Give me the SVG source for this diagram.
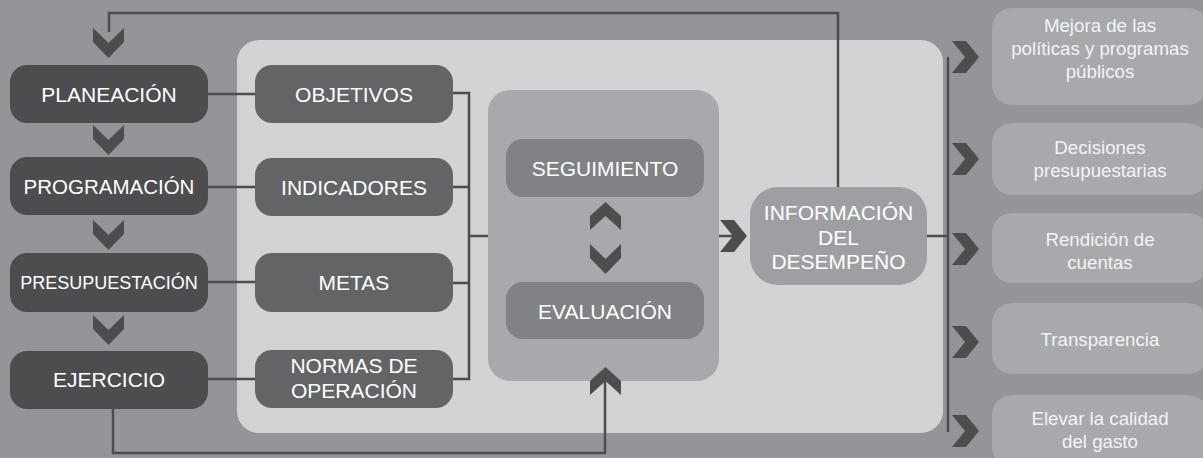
<svg xmlns="http://www.w3.org/2000/svg" xmlns:xlink="http://www.w3.org/1999/xlink" width="1203" height="458" viewBox="0 0 1203 458">
<style>
text{font-family:"Liberation Sans",Arial,Helvetica,sans-serif;text-anchor:middle;fill:#ffffff}
.t21{font-size:21px}
.t18{font-size:18.7px;fill:#f4f4f4}
.ln{fill:none;stroke:#4d4d4f;stroke-width:2.5}
.chev{fill:#4d4d4f}
.dark{fill:#4d4d4f}
.mid{fill:#636466}
.eval{fill:#808285}
.out{fill:#a7a9ac}
</style>
<defs>
<path id="cd" d="M0,0 L15.5,15 L31,0 L31,14 L15.5,30 L0,14 Z"/>
<path id="cu" d="M0,28 L15.5,14 L31,28 L31,14 L15.5,0 L0,14 Z"/>
<path id="cr" d="M0,0 L14,0 L27,16 L14,32 L0,32 L13,16 Z"/>
</defs>
<rect x="0" y="0" width="1203" height="458" fill="#939598"/>
<rect x="237" y="40" width="706" height="393" rx="22" fill="#d1d3d4"/>
<rect x="488" y="90" width="231" height="291" rx="22" fill="#a7a9ac"/>

<g id="connectors">
<path class="ln" d="M838,187 V13 H109 V32"/>
<path class="ln" d="M208,94 H255 M208,187 H255 M208,282 H255 M208,379 H255"/>
<path class="ln" d="M453,93 H469 V379 H453 M453,187 H469 M453,283 H469 M469,236 H488"/>
<path class="ln" d="M719,236 H735"/>
<path class="ln" d="M113,409 V453 H605 V380"/>
<path class="ln" d="M927,236 H948 M948,57 V432"/>
<g class="chev">
<use xlink:href="#cd" x="93" y="28"/>
<use xlink:href="#cd" x="93" y="125"/>
<use xlink:href="#cd" x="93" y="220"/>
<use xlink:href="#cd" x="93" y="315"/>
<use xlink:href="#cu" x="590" y="202"/>
<use xlink:href="#cd" x="590" y="244"/>
<use xlink:href="#cu" x="590" y="367"/>
<use xlink:href="#cr" x="720" y="220"/>
<use xlink:href="#cr" x="952" y="41"/>
<use xlink:href="#cr" x="952" y="143"/>
<use xlink:href="#cr" x="952" y="233"/>
<use xlink:href="#cr" x="952" y="326"/>
<use xlink:href="#cr" x="952" y="415"/>
</g>
</g>

<g id="planeacion"><rect class="dark" x="10" y="65" width="198" height="58" rx="17"/><text class="t21" x="109" y="101.5">PLANEACIÓN</text></g>
<g id="programacion"><rect class="dark" x="10" y="157" width="198" height="58" rx="17"/><text class="t21" x="109" y="194" style="font-size:20.5px">PROGRAMACIÓN</text></g>
<g id="presupuestacion"><rect class="dark" x="10" y="253" width="198" height="59" rx="17"/><text x="109" y="289" style="font-size:18px">PRESUPUESTACIÓN</text></g>
<g id="ejercicio"><rect class="dark" x="10" y="351" width="198" height="58" rx="17"/><text class="t21" x="109" y="387">EJERCICIO</text></g>

<g id="objetivos"><rect class="mid" x="255" y="65" width="198" height="58" rx="17"/><text class="t21" x="354" y="101.5">OBJETIVOS</text></g>
<g id="indicadores"><rect class="mid" x="255" y="158" width="198" height="58" rx="17"/><text class="t21" x="354" y="194.5">INDICADORES</text></g>
<g id="metas"><rect class="mid" x="255" y="253" width="198" height="59" rx="17"/><text class="t21" x="354" y="290">METAS</text></g>
<g id="normas"><rect class="mid" x="255" y="350" width="198" height="58" rx="17"/><text class="t21" x="354" y="373">NORMAS DE</text><text class="t21" x="354" y="398">OPERACIÓN</text></g>

<g id="seguimiento"><rect class="eval" x="506" y="139" width="198" height="58" rx="17"/><text class="t21" x="605" y="176">SEGUIMIENTO</text></g>
<g id="evaluacion"><rect class="eval" x="506" y="282" width="198" height="57" rx="17"/><text class="t21" x="605" y="319">EVALUACIÓN</text></g>

<g id="informacion"><rect x="750" y="187" width="177" height="98" rx="28" fill="#9d9fa2"/><text class="t21" x="838.5" y="220">INFORMACIÓN</text><text class="t21" x="838.5" y="245">DEL</text><text class="t21" x="838.5" y="269">DESEMPEÑO</text></g>

<g id="mejora"><rect class="out" x="992" y="8" width="216" height="97" rx="20"/><text class="t18" x="1100" y="32">Mejora de las</text><text class="t18" x="1100" y="55">políticas y programas</text><text class="t18" x="1100" y="78">públicos</text></g>
<g id="decisiones"><rect class="out" x="992" y="123" width="216" height="72" rx="20"/><text class="t18" x="1100" y="154">Decisiones</text><text class="t18" x="1100" y="177">presupuestarias</text></g>
<g id="rendicion"><rect class="out" x="992" y="213" width="216" height="70" rx="20"/><text class="t18" x="1100" y="246">Rendición de</text><text class="t18" x="1100" y="269">cuentas</text></g>
<g id="transparencia"><rect class="out" x="992" y="303" width="216" height="71" rx="20"/><text class="t18" x="1100" y="346">Transparencia</text></g>
<g id="elevar"><rect class="out" x="992" y="395" width="216" height="72" rx="20"/><text class="t18" x="1100" y="425">Elevar la calidad</text><text class="t18" x="1100" y="448">del gasto</text></g>
</svg>
